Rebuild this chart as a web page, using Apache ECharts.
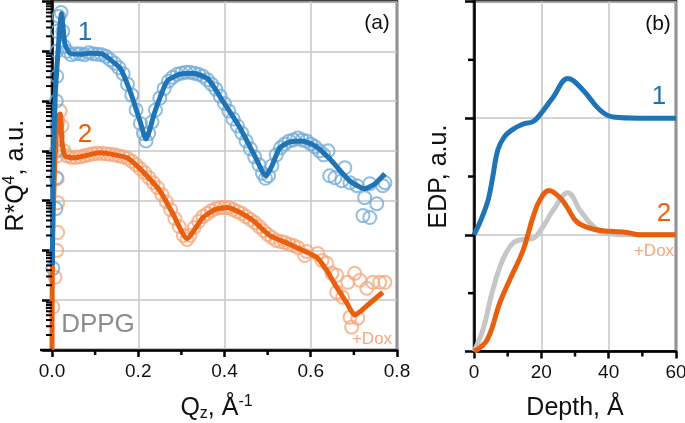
<!DOCTYPE html>
<html>
<head>
<meta charset="utf-8">
<script src="https://cdn.jsdelivr.net/npm/echarts@6/dist/echarts.min.js"></script>
<style>
  html, body { margin: 0; padding: 0; background: #fff; }
  #main { width: 685px; height: 423px; }
</style>
</head>
<body>
<div id="main"></div>
<script>
// panel (a): reflectivity R*Q^4, log10 of arbitrary units vs Qz
var qTicks = ['0.0', '0.2', '0.4', '0.6', '0.8'];
var depthTicks = ['0', '20', '40', '60'];

// sample 1 (DPPG), fitted curve  [Qz, log10(R*Q^4)]
var fit1 = [
  [0.001, 1.7], [0.002, 3.4], [0.007, 5.0], [0.014, 6.0], [0.022, 6.76],
  [0.030, 6.14], [0.042, 5.96], [0.065, 5.94], [0.088, 5.96], [0.118, 5.94],
  [0.134, 5.84], [0.158, 5.66], [0.181, 5.2], [0.204, 4.6], [0.218, 4.24],
  [0.239, 4.8], [0.267, 5.4], [0.297, 5.54], [0.327, 5.56], [0.362, 5.44],
  [0.396, 5.0], [0.436, 4.46], [0.470, 3.9], [0.496, 3.5], [0.510, 3.7],
  [0.528, 4.06], [0.552, 4.18], [0.579, 4.2], [0.610, 4.1], [0.644, 3.84],
  [0.690, 3.4], [0.725, 3.24], [0.749, 3.34], [0.772, 3.54]
];
// sample 1, measured points
var data1 = [
  [0.002, 1.64], [0.009, 2.84], [0.010, 3.46], [0.010, 4.0], [0.011, 4.5],
  [0.010, 5.0], [0.011, 5.5], [0.011, 6.0], [0.012, 6.4], [0.016, 6.7],
  [0.021, 6.78], [0.025, 6.4], [0.028, 6.1],
  [0.035, 6.0], [0.045, 5.93], [0.055, 5.95], [0.065, 5.95], [0.075, 5.93],
  [0.085, 5.97], [0.095, 5.95], [0.105, 5.94], [0.115, 5.93], [0.125, 5.9],
  [0.135, 5.83], [0.145, 5.76], [0.155, 5.67], [0.165, 5.55], [0.175, 5.34],
  [0.185, 5.12], [0.195, 4.82], [0.205, 4.55], [0.212, 4.35], [0.218, 4.2],
  [0.224, 4.35], [0.232, 4.58], [0.240, 4.82], [0.250, 5.06], [0.260, 5.25],
  [0.270, 5.4], [0.280, 5.48], [0.290, 5.54], [0.300, 5.56], [0.310, 5.58],
  [0.320, 5.58], [0.330, 5.56], [0.340, 5.54], [0.350, 5.5], [0.360, 5.43],
  [0.370, 5.34], [0.380, 5.24], [0.390, 5.1], [0.400, 4.95], [0.410, 4.8],
  [0.420, 4.64], [0.430, 4.5], [0.440, 4.36], [0.450, 4.2], [0.460, 4.04],
  [0.470, 3.88], [0.480, 3.72], [0.488, 3.55], [0.495, 3.45], [0.502, 3.5],
  [0.510, 3.7], [0.520, 3.92], [0.530, 4.06], [0.540, 4.14], [0.550, 4.2],
  [0.560, 4.22], [0.570, 4.26], [0.580, 4.22], [0.590, 4.2], [0.600, 4.14],
  [0.610, 4.08], [0.620, 4.0], [0.630, 3.92], [0.640, 4.0], [0.644, 3.5],
  [0.656, 3.46], [0.672, 3.4], [0.679, 3.66], [0.691, 3.36], [0.707, 3.3],
  [0.721, 2.7], [0.725, 3.06], [0.737, 3.34], [0.737, 2.66], [0.753, 2.94],
  [0.767, 3.3], [0.772, 3.36]
];

// sample 2 (+Dox), fitted curve
var fit2 = [
  [0.0, 0.0], [0.001, 2.0], [0.005, 3.4], [0.009, 4.2], [0.014, 4.7],
  [0.019, 4.74], [0.023, 4.2], [0.030, 3.9], [0.049, 3.86], [0.076, 3.9],
  [0.111, 3.96], [0.146, 3.92], [0.174, 3.86], [0.197, 3.7], [0.220, 3.5],
  [0.250, 3.2], [0.280, 2.74], [0.313, 2.24], [0.350, 2.66], [0.378, 2.82],
  [0.406, 2.86], [0.436, 2.76], [0.466, 2.6], [0.505, 2.3], [0.547, 2.14],
  [0.582, 2.0], [0.614, 1.86], [0.637, 1.6], [0.660, 1.26], [0.684, 0.94],
  [0.702, 0.7], [0.737, 0.94], [0.767, 1.16]
];
// sample 2, measured points
var data2 = [
  [0.002, 0.86], [0.007, 1.46], [0.011, 2.0], [0.013, 2.36], [0.013, 2.96],
  [0.012, 3.44], [0.012, 3.9], [0.013, 4.3], [0.014, 4.6], [0.019, 4.8],
  [0.023, 4.5], [0.028, 4.0],
  [0.035, 3.9], [0.045, 3.87], [0.055, 3.87], [0.065, 3.88], [0.075, 3.9],
  [0.085, 3.92], [0.095, 3.94], [0.105, 3.95], [0.115, 3.95], [0.125, 3.94],
  [0.135, 3.93], [0.145, 3.92], [0.155, 3.9], [0.165, 3.88], [0.175, 3.85],
  [0.185, 3.79], [0.195, 3.72], [0.205, 3.64], [0.215, 3.56], [0.225, 3.46],
  [0.235, 3.36], [0.245, 3.26], [0.255, 3.12], [0.265, 2.98], [0.275, 2.82],
  [0.285, 2.64], [0.295, 2.48], [0.305, 2.3], [0.313, 2.22], [0.320, 2.3],
  [0.330, 2.46], [0.340, 2.58], [0.350, 2.68], [0.360, 2.74], [0.370, 2.8],
  [0.380, 2.84], [0.390, 2.86], [0.400, 2.86], [0.410, 2.86], [0.420, 2.82],
  [0.430, 2.78], [0.440, 2.74], [0.450, 2.68], [0.460, 2.62], [0.470, 2.56],
  [0.480, 2.48], [0.490, 2.4], [0.500, 2.32], [0.510, 2.26], [0.520, 2.2],
  [0.530, 2.18], [0.540, 2.16], [0.550, 2.12], [0.560, 2.1], [0.570, 2.06],
  [0.586, 1.9], [0.590, 1.98], [0.616, 1.94], [0.626, 1.8], [0.637, 1.74],
  [0.649, 1.54], [0.660, 1.5], [0.660, 1.16], [0.674, 1.06], [0.686, 1.36],
  [0.691, 0.66], [0.695, 0.46], [0.702, 1.54], [0.709, 0.64], [0.714, 1.4],
  [0.730, 1.24], [0.744, 1.36], [0.760, 1.36], [0.772, 1.36]
];

// panel (b): electron density profiles  [depth, EDP]
var edp1 = [
  [0, 1.0], [2.1, 1.13], [4.2, 1.30], [5.4, 1.47], [7.1, 1.73], [9.0, 1.84],
  [11.3, 1.90], [14.6, 1.95], [17.5, 1.97], [19.6, 2.03], [23.5, 2.18],
  [27.9, 2.34], [32.4, 2.24], [37.4, 2.07], [41.3, 2.01], [49.3, 2.0], [60, 2.0]
];
var edp2 = [
  [0, 0], [3.9, 0.10], [7.7, 0.42], [10.7, 0.62], [14.6, 0.87], [17.5, 1.15],
  [19.6, 1.30], [22.3, 1.38], [25.5, 1.32], [27.6, 1.24], [30.6, 1.11],
  [35.3, 1.05], [40.4, 1.03], [45.4, 1.02], [49.3, 1.0], [60, 1.0]
];
var edpRef = [
  [0, 0], [2.7, 0.19], [5.6, 0.53], [8.6, 0.79], [11.6, 0.93], [14.6, 0.96],
  [17.5, 0.97], [20.5, 1.07], [23.5, 1.21], [27.9, 1.36], [31.5, 1.21],
  [34.5, 1.10], [37.4, 1.03], [40.4, 1.01], [46.3, 1.0], [60, 1.0]
];

// minor tick values: log-spaced on the left axis of (a), halfway on the others
var minorLogA = [];
for (var d = 0; d < 7; d++) {
  for (var k = 2; k <= 9; k++) minorLogA.push(d + Math.log10(k));
}
var minorQ = [0.1, 0.3, 0.5, 0.7];
var minorDepth = [10, 30, 50];
var minorEdp = [0.5, 1.5, 2.5];

var FONT = '"Liberation Sans", Arial, sans-serif';
var BLUE = '#1f74b6', BLUE_L = '#76acd8';
var ORANGE = '#e8600f', ORANGE_L = '#f6a77d';
var GREY = '#c6c6c6';

function axisX(idx, min, max, interval, name, gap, pad) {
  return {
    type: 'value', gridIndex: idx, min: min, max: max, interval: interval,
    axisLine: { lineStyle: { color: '#000', width: 2.5 } },
    axisTick: { length: 7, lineStyle: { color: '#000', width: 2.5 } },
    axisLabel: { fontSize: 19, color: '#111', fontFamily: FONT, margin: 12,
      formatter: function (v) { return idx === 0 ? qTicks[Math.round(v / 0.2)] : depthTicks[Math.round(v / 20)]; } },
    splitLine: { show: true, lineStyle: { color: GREY, width: 1.5 } },
    name: name, nameLocation: 'middle', nameGap: gap,
    nameTextStyle: { fontSize: 25, color: '#111', fontFamily: FONT, padding: pad,
      rich: {
        sub: { fontSize: 16, fontFamily: FONT, color: '#111', padding: [12, 0, 0, 0] },
        sup: { fontSize: 16, fontFamily: FONT, color: '#111', padding: [0, 0, 12, 0] }
      } }
  };
}

function axisY(idx, min, max, name, gap, tickLen) {
  return {
    type: 'value', gridIndex: idx, min: min, max: max, interval: 1,
    axisLine: { lineStyle: { color: '#000', width: 2.5 } },
    axisTick: { length: tickLen, lineStyle: { color: '#000', width: 2.5 } },
    axisLabel: { show: false },
    splitLine: { show: true, lineStyle: { color: GREY, width: 1.5 } },
    name: name, nameLocation: 'middle', nameGap: gap, nameRotate: 90,
    nameTextStyle: { fontSize: 25, color: '#111', fontFamily: FONT,
      rich: { sup: { fontSize: 16, fontFamily: FONT, color: '#111', padding: [0, 0, 12, 0] } } }
  };
}

// short outward tick marks placed through the axis scale
function tickSeries(gi, values, dir, len, width) {
  return {
    type: 'custom', xAxisIndex: gi, yAxisIndex: gi, clip: false, silent: true, z: 5,
    data: values.map(function (v) { return [v]; }),
    renderItem: function (params, api) {
      var v = api.value(0);
      var p = dir === 'x' ? api.coord([v, 0]) : api.coord([0, v]);
      var shape = dir === 'x'
        ? { x1: p[0], y1: p[1], x2: p[0], y2: p[1] + len }
        : { x1: p[0] - len, y1: p[1], x2: p[0], y2: p[1] };
      return { type: 'line', shape: shape, style: { stroke: '#000', lineWidth: width } };
    }
  };
}

function label(x, y, text, color, size) {
  return { type: 'text', x: x, y: y, z: 10,
    style: { text: text, fill: color, font: size + 'px ' + FONT, align: 'center', verticalAlign: 'middle' } };
}

var chart = echarts.init(document.getElementById('main'));
var option = {
  animation: false,
  grid: [
    { left: 52, top: 1.5, width: 345, height: 348.5, show: true, borderColor: '#000', borderWidth: 2.5,
      outerBoundsMode: 'none', containLabel: false },
    { left: 474, top: 1.5, width: 202, height: 350, show: true, borderColor: '#000', borderWidth: 2.5,
      outerBoundsMode: 'none', containLabel: false }
  ],
  xAxis: [
    axisX(0, 0, 0.8, 0.2, 'Q{sub|z}, Å{sup|-1}', 44, [0, 16, 0, 0]),
    axisX(1, 0, 60, 20, 'Depth, Å', 44, 0)
  ],
  yAxis: [
    axisY(0, 0, 7, 'R*Q{sup|4}, a.u.', 22, 10),
    axisY(1, 0, 3, 'EDP, a.u.', 22, 9)
  ],
  series: [
    tickSeries(0, minorLogA, 'y', 6, 2),
    tickSeries(0, minorQ, 'x', 5, 2.5),
    tickSeries(1, minorDepth, 'x', 5, 2.5),
    tickSeries(1, minorEdp, 'y', 6, 2.5),
    {
      // bottom axis of (a) runs a little past the left axis
      type: 'custom', xAxisIndex: 0, yAxisIndex: 0, clip: false, silent: true, z: 5,
      data: [[0, 0]],
      renderItem: function (params, api) {
        var p = api.coord([0, 0]);
        return { type: 'line', shape: { x1: p[0] - 12, y1: p[1], x2: p[0], y2: p[1] },
          style: { stroke: '#000', lineWidth: 2.5 } };
      }
    },
    { type: 'scatter', xAxisIndex: 0, yAxisIndex: 0, data: data2, symbol: 'circle', symbolSize: 13,
      itemStyle: { color: 'rgba(255,255,255,0)', borderColor: ORANGE_L, borderWidth: 2 } },
    { type: 'scatter', xAxisIndex: 0, yAxisIndex: 0, data: data1, symbol: 'circle', symbolSize: 13,
      itemStyle: { color: 'rgba(255,255,255,0)', borderColor: BLUE_L, borderWidth: 2 } },
    { type: 'line', xAxisIndex: 0, yAxisIndex: 0, data: fit2, showSymbol: false, smooth: 0.2,
      lineStyle: { color: ORANGE, width: 5 } },
    { type: 'line', xAxisIndex: 0, yAxisIndex: 0, data: fit1, showSymbol: false, smooth: 0.2,
      lineStyle: { color: BLUE, width: 5 } },
    { type: 'line', xAxisIndex: 1, yAxisIndex: 1, data: edpRef, showSymbol: false, smooth: 0.4,
      lineStyle: { color: GREY, width: 5 } },
    { type: 'line', xAxisIndex: 1, yAxisIndex: 1, data: edp2, showSymbol: false, smooth: 0.4,
      lineStyle: { color: ORANGE, width: 5 } },
    { type: 'line', xAxisIndex: 1, yAxisIndex: 1, data: edp1, showSymbol: false, smooth: 0.4,
      lineStyle: { color: BLUE, width: 5 } }
  ],
  graphic: [
    label(85, 33, '1', BLUE, 26),
    label(85, 135, '2', ORANGE, 26),
    label(377, 23, '(a)', '#111', 21),
    label(98, 325, 'DPPG', '#8c8c8c', 26),
    label(372, 339, '+Dox', ORANGE_L, 17),
    label(658, 24, '(b)', '#111', 21),
    label(659, 97, '1', BLUE, 26),
    label(664, 214, '2', ORANGE, 26),
    label(654, 251, '+Dox', ORANGE_L, 17)
  ]
};
chart.setOption(option);
</script>
</body>
</html>
